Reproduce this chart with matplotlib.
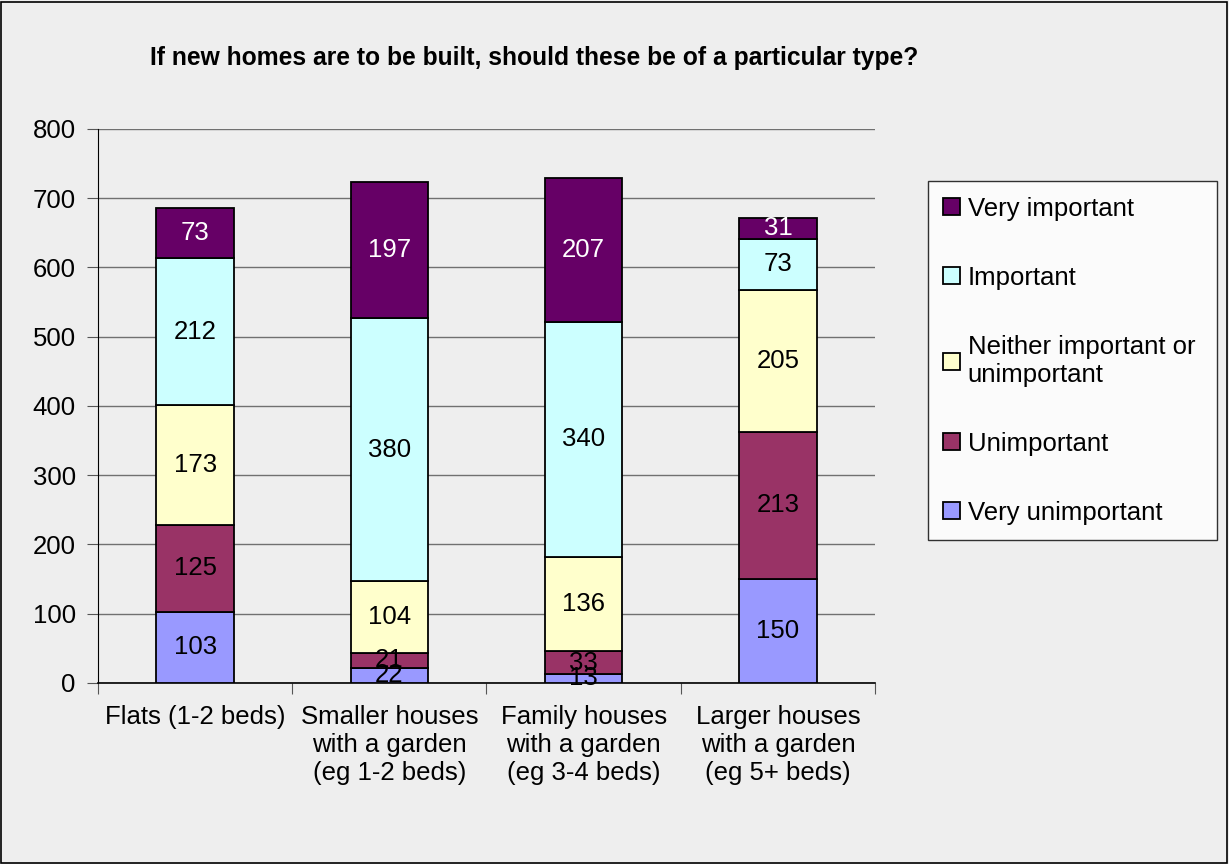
import numpy as np
import matplotlib.pyplot as plt
from matplotlib.patches import Rectangle

plt.rcParams["font.family"] = ["Liberation Sans", "DejaVu Sans"]

categories = ["Flats (1-2 beds)", "Smaller houses\nwith a garden\n(eg 1-2 beds)",
              "Family houses\nwith a garden\n(eg 3-4 beds)", "Larger houses\nwith a garden\n(eg 5+ beds)"]
series_names = ["Very unimportant", "Unimportant", "Neither important or\nunimportant",
                "Important", "Very important"]
very_unimportant = [103, 22, 13, 150]
unimportant = [125, 21, 33, 213]
neither = [173, 104, 136, 205]
important = [212, 380, 340, 73]
very_important = [73, 197, 207, 31]
colors = ["#9999FF", "#993366", "#FFFFCC", "#CCFFFF", "#660066"]
label_colors = ["black", "black", "black", "black", "white"]

series = [very_unimportant, unimportant, neither, important, very_important]

FS = 18.5
bg = "#EEEEEE"
fig = plt.figure(figsize=(12.29, 8.64), dpi=100, facecolor=bg)
fig.patches.append(Rectangle((0.001, 0.001), 0.997, 0.997, transform=fig.transFigure,
                             fill=False, edgecolor="black", linewidth=1.2))
ax = fig.add_axes([0.0797, 0.2095, 0.6323, 0.6412])
ax.set_facecolor(bg)

x = np.arange(len(categories))
bottom = np.zeros(len(categories))
handles = []
for vals, name, c, lc in zip(series, series_names, colors, label_colors):
    vals = np.array(vals)
    bars = ax.bar(x, vals, width=0.4, bottom=bottom, color=c, edgecolor="black",
                  linewidth=1.3, label=name, zorder=3)
    handles.append(bars)
    for xi, b, v in zip(x, bottom, vals):
        ax.text(xi, b + v / 2, str(v), ha="center", va="center", fontsize=FS,
                color=lc, zorder=4)
    bottom += vals

ax.set_xlim(-0.5, 3.5)
ax.set_ylim(0, 800)
ax.set_yticks(range(0, 801, 100))
ax.yaxis.grid(True, color="#707070", linewidth=1.0, zorder=0)
ax.set_xticks(np.arange(-0.5, 4, 1))
ax.set_xticklabels([])
ax.set_xticks(x, minor=True)
ax.set_xticklabels(categories, minor=True, fontsize=FS, linespacing=1.2)
ax.tick_params(axis="x", which="minor", length=0, pad=16)
ax.tick_params(axis="x", which="major", length=8, direction="out", color="#555555")
ax.tick_params(axis="y", labelsize=FS, length=8, direction="out", color="#555555", pad=8)
for s in ["top", "right"]:
    ax.spines[s].set_visible(False)
ax.spines["left"].set_color("black")
ax.spines["bottom"].set_color("black")
ax.spines["bottom"].set_linewidth(1.2)

fig.text(0.122, 0.933, "If new homes are to be built, should these be of a particular type?",
         fontsize=17.7, ha="left", va="center", fontweight="bold", fontstretch="condensed")

leg = fig.legend(handles[::-1], series_names[::-1], loc="upper left",
                 bbox_to_anchor=(0.755, 0.79, 0.235, 0.0), mode="expand", fontsize=FS,
                 frameon=True, fancybox=False,
                 handlelength=0.65, handleheight=0.65, handletextpad=0.3,
                 labelspacing=1.75, borderpad=0.6, borderaxespad=0)
leg.get_frame().set_edgecolor("black")
leg.get_frame().set_facecolor("white")
leg.get_frame().set_linewidth(1.0)

fig.savefig("out.png", dpi=100, facecolor=bg)
